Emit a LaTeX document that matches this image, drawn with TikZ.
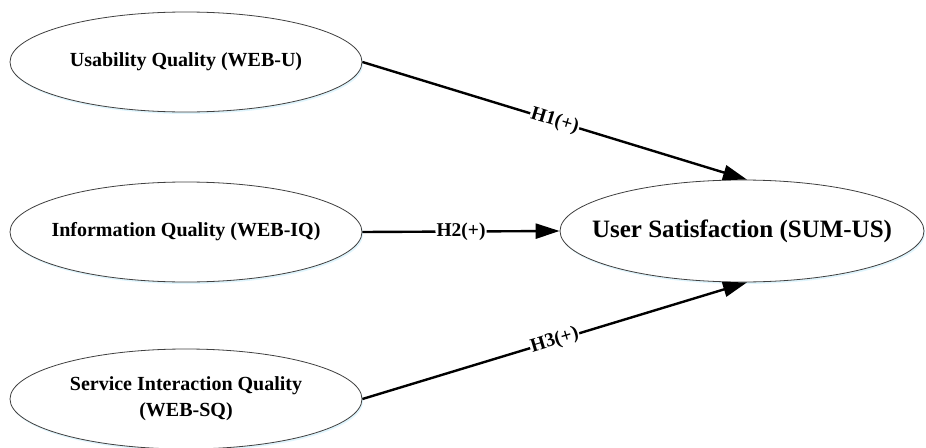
\documentclass[tikz,border=0pt]{standalone}
\usepackage{fontspec}
\setmainfont{Liberation Serif}
\usetikzlibrary{arrows.meta,shapes.geometric,shadows}

\begin{document}
\begin{tikzpicture}[x=1pt,y=-1pt,->,>={Triangle[length=24pt,width=15pt]},
                    line width=2.4pt,font=\bfseries]
  \tikzstyle{construct}=[ellipse,draw=black!75,line width=0.8pt,fill=white,
      inner xsep=-45pt,inner ysep=0pt,minimum width=352pt,minimum height=100pt,
      align=center,font=\fontsize{20}{26}\bfseries,
      drop shadow={shadow xshift=1.2pt,shadow yshift=-2pt,fill=cyan!12,opacity=1}]
  \tikzstyle{hyp}=[sloped,fill=white,inner sep=1pt,font=\fontsize{19.5}{22}\bfseries]

  \useasboundingbox (0,0) rectangle (926,447);

  \node[construct]  (U)   at (186,62)   {Usability Quality (WEB-U)};
  \node[construct]  (IQ)  at (186,232)  {Information Quality (WEB-IQ)};
  \node[construct]  (SQ)  at (186,399)  {Service Interaction Quality\\(WEB-SQ)};
  \node[construct,minimum width=364pt,minimum height=102pt,
        font=\fontsize{25}{28}\bfseries]
                    (US)  at (742,231)  {User Satisfaction (SUM-US)};

  \path (U.east)  edge  node[hyp] {H1(+)}  ([xshift=5pt]US.north);
  \path (IQ.east) edge  node[hyp] {H2(+)}  (US.west);
  \path (SQ.east) edge  node[hyp] {H3(+)}  ([xshift=5pt]US.south);

\end{tikzpicture}
\end{document}
